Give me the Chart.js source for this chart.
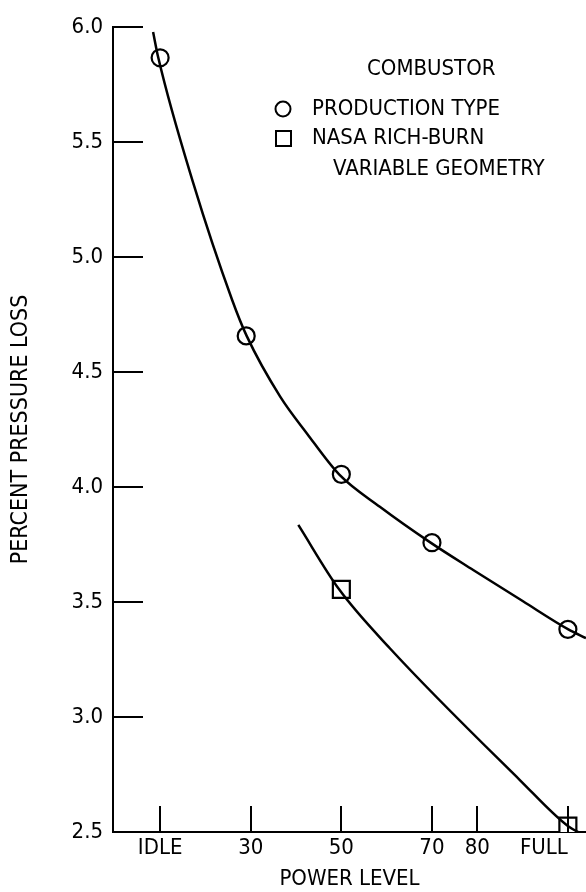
<!DOCTYPE html>
<html>
<head>
<meta charset="utf-8">
<script src="https://cdn.jsdelivr.net/npm/chart.js@4.4.1/dist/chart.umd.min.js"></script>
<style>
  html, body { margin: 0; padding: 0; background: #fff; }
  #wrap { width: 586px; height: 892px; }
</style>
</head>
<body>
<div id="wrap"><canvas id="lossChart" width="586" height="892"></canvas></div>
<script>
// tick positions and labels on the power axis
var xTickValues = [0, 10, 30, 50, 70, 80, 100];
var xTickLabels = ['', 'IDLE', '30', '50', '70', '80', 'FULL'];

// measured points
var productionPower = [10, 29, 50, 70, 100];
var productionLoss = [5.866, 4.657, 4.055, 3.758, 3.381];
var richBurnPower = [50, 100];
var richBurnLoss = [3.555, 2.526];

// faired curves
var productionCurvePower = [8.45, 9.6, 17.3, 25.9, 29.1, 36.5, 42.4, 49.5, 58.5, 69.7, 79.1, 90.1, 100.1, 104];
var productionCurveLoss = [5.978, 5.866, 5.322, 4.813, 4.657, 4.393, 4.233, 4.055, 3.914, 3.758, 3.639, 3.503, 3.381, 3.343];
var richBurnCurvePower = [40.5, 49.5, 60.7, 89.4, 100, 104];
var richBurnCurveLoss = [3.835, 3.555, 3.299, 2.726, 2.526, 2.483];

var legendTitle = 'COMBUSTOR';
var legendLines = ['PRODUCTION TYPE', 'NASA RICH-BURN', 'VARIABLE GEOMETRY'];

var FONT = "'Liberation Sans Narrow', 'DejaVu Sans Condensed', 'Liberation Sans', sans-serif";

function pts(xs, ys) {
    return xs.map(function (x, i) { return { x: x, y: ys[i] }; });
}

// inward tick marks + the legend block inside the plot
var decorations = {
    id: 'decorations',
    afterDraw: function (chart) {
        var ctx = chart.ctx;
        var xs = chart.scales.x, ys = chart.scales.y;
        var area = chart.chartArea;
        ctx.save();
        ctx.strokeStyle = '#000';
        ctx.lineWidth = 2;
        ctx.beginPath();
        xTickValues.forEach(function (v, i) {
            if (!xTickLabels[i]) return;
            var px = Math.round(xs.getPixelForValue(v));
            ctx.moveTo(px, area.bottom);
            ctx.lineTo(px, area.bottom - 26);
        });
        ys.ticks.forEach(function (t) {
            var py = Math.round(ys.getPixelForValue(t.value));
            ctx.moveTo(area.left, py);
            ctx.lineTo(area.left + 30, py);
        });
        ctx.stroke();

        // legend
        ctx.fillStyle = '#000';
        ctx.textBaseline = 'middle';
        ctx.textAlign = 'left';
        ctx.font = '22px ' + FONT;
        ctx.fillText(legendTitle, 367, 69);
        ctx.fillText(legendLines[0], 312, 109);
        ctx.fillText(legendLines[1], 312, 138);
        ctx.fillText(legendLines[2], 333, 169);

        ctx.lineWidth = 2;
        ctx.beginPath();
        ctx.arc(283, 109, 7.5, 0, Math.PI * 2);
        ctx.stroke();
        ctx.strokeRect(276, 131, 15, 15);
        ctx.restore();
    }
};

var ctx = document.getElementById('lossChart').getContext('2d');
var chart = new Chart(ctx, {
    type: 'scatter',
    data: {
        datasets: [{
            label: 'production curve',
            data: pts(productionCurvePower, productionCurveLoss),
            showLine: true,
            borderColor: '#000',
            borderWidth: 2.5,
            cubicInterpolationMode: 'monotone',
            pointRadius: 0
        }, {
            label: 'rich-burn curve',
            data: pts(richBurnCurvePower, richBurnCurveLoss),
            showLine: true,
            borderColor: '#000',
            borderWidth: 2.5,
            cubicInterpolationMode: 'monotone',
            pointRadius: 0
        }, {
            label: 'PRODUCTION TYPE',
            data: pts(productionPower, productionLoss),
            pointStyle: 'circle',
            pointRadius: 8.5,
            pointBackgroundColor: '#fff',
            pointBorderColor: '#000',
            pointBorderWidth: 2.2
        }, {
            label: 'NASA RICH-BURN VARIABLE GEOMETRY',
            data: pts(richBurnPower, richBurnLoss),
            pointStyle: 'rect',
            pointRadius: 12,
            pointBackgroundColor: '#fff',
            pointBorderColor: '#000',
            pointBorderWidth: 2.2
        }]
    },
    options: {
        responsive: false,
        animation: false,
        layout: { autoPadding: false, padding: { top: 27, right: 0, left: 0, bottom: 0 } },
        plugins: {
            legend: { display: false },
            tooltip: { enabled: false }
        },
        scales: {
            x: {
                type: 'linear',
                min: -0.4,
                max: 104,
                afterBuildTicks: function (scale) {
                    scale.ticks = xTickValues.map(function (v) { return { value: v }; });
                },
                afterFit: function (scale) {
                    scale.height = 60;
                    scale.paddingLeft = 0;
                    scale.paddingRight = 0;
                },
                grid: { display: false },
                border: { display: true, color: '#000', width: 2 },
                ticks: {
                    autoSkip: false,
                    maxRotation: 0,
                    align: 'inner',
                    padding: -5,
                    color: '#000',
                    font: { family: FONT, size: 22 },
                    callback: function (v) {
                        var i = xTickValues.indexOf(v);
                        return i < 0 ? '' : xTickLabels[i];
                    }
                },
                title: {
                    display: true,
                    text: 'POWER LEVEL',
                    color: '#000',
                    padding: { top: 0, bottom: 0 },
                    font: { family: FONT, size: 22 }
                }
            },
            y: {
                min: 2.5,
                max: 6.0,
                afterFit: function (scale) {
                    scale.width = 113;
                    scale.paddingTop = 0;
                    scale.paddingBottom = 0;
                },
                grid: { display: false },
                border: { display: true, color: '#000', width: 2 },
                ticks: {
                    stepSize: 0.5,
                    padding: 2,
                    color: '#000',
                    font: { family: FONT, size: 22 },
                    callback: function (v) { return v.toFixed(1); }
                },
                title: {
                    display: true,
                    text: 'PERCENT PRESSURE LOSS',
                    color: '#000',
                    padding: { top: 7, bottom: 0 },
                    font: { family: FONT, size: 23 }
                }
            }
        }
    },
    plugins: [decorations]
});
</script>
</body>
</html>
